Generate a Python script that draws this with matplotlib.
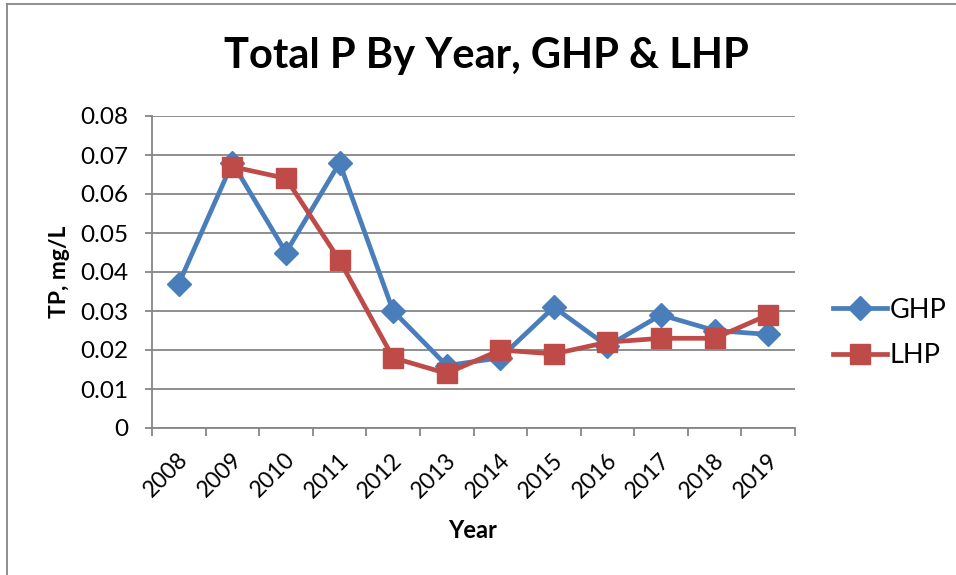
import numpy as np
import matplotlib.pyplot as plt
import matplotlib.transforms as mtransforms
from matplotlib.lines import Line2D

years = ["2008", "2009", "2010", "2011", "2012", "2013",
         "2014", "2015", "2016", "2017", "2018", "2019"]
ghp = [0.037, 0.068, 0.045, 0.068, 0.030, 0.016,
       0.018, 0.031, 0.021, 0.029, 0.025, 0.024]
# no LHP value for 2008
lhp = [np.nan, 0.067, 0.064, 0.043, 0.018, 0.014,
       0.020, 0.019, 0.022, 0.023, 0.023, 0.029]

plt.rcParams['font.family'] = ['Lato', 'DejaVu Sans']

W, H = 956, 575
fig = plt.figure(figsize=(W / 100, H / 100), dpi=100)
ax = fig.add_axes([152 / W, 1 - 428 / H, (795 - 152) / W, (428 - 116) / H])

x = np.arange(len(years))
ax.plot(x, ghp, color='#4A7EBB', lw=3.4, marker='D', ms=12, label='GHP', zorder=3)
ax.plot(x, lhp, color='#BE4B48', lw=3.4, marker='s', ms=14, label='LHP', zorder=4)

ax.set_ylim(0, 0.08)
ax.set_yticks(np.arange(0, 0.081, 0.01))
ax.set_yticklabels(["0"] + [f"{v:.2f}" for v in np.arange(0.01, 0.081, 0.01)])
ax.set_xlim(-0.5, len(years) - 0.5)
ax.set_xticks(np.arange(-0.5, len(years), 1.0))
ax.set_xticklabels([])
ax.set_xticks(x, minor=True)
ax.set_xticklabels(years, minor=True, rotation=45, ha='right', va='center',
                   rotation_mode='anchor', fontsize=16.5)
ax.tick_params(axis='x', which='minor', length=0, pad=22)
ax.tick_params(axis='x', which='major', length=6, width=1.3, color='#868686')
ax.tick_params(axis='y', length=5, width=1.3, color='#868686', labelsize=17.5, pad=12)

# nudge the year labels a bit right, like excel does
shift = mtransforms.ScaledTranslation(6 / 100, 2 / 100, fig.dpi_scale_trans)
for lbl in ax.xaxis.get_minorticklabels():
    lbl.set_transform(lbl.get_transform() + shift)

ax.grid(axis='y', color='#868686', lw=1.3)
ax.set_axisbelow(True)
for s in ['top', 'right']:
    ax.spines[s].set_visible(False)
for s in ['left', 'bottom']:
    ax.spines[s].set_color('#868686')
    ax.spines[s].set_linewidth(1.3)

fig.text(486 / W, 1 - 56 / H, "Total P By Year, GHP & LHP", ha='center', va='center',
         fontsize=30, fontweight='bold')
fig.text(60 / W, 1 - 272 / H, "TP, mg/L", ha='center', va='center', rotation=90,
         fontsize=16.5, fontweight='bold')
fig.text(473 / W, 1 - 530 / H, "Year", ha='center', va='center',
         fontsize=17, fontweight='bold')

ax.legend(loc='center left', bbox_to_anchor=(833 / W, 1 - 333 / H),
          bbox_transform=fig.transFigure, frameon=False, fontsize=19.5,
          handlelength=2.0, labelspacing=0.75, handletextpad=0.1,
          borderpad=0, borderaxespad=0)

# chart border (cropped)
fig.add_artist(Line2D([7 / W, 7 / W], [0, 1 - 4 / H], color='#868686', lw=1.3))
fig.add_artist(Line2D([7 / W, 1], [1 - 4 / H, 1 - 4 / H], color='#868686', lw=1.3))

fig.savefig('out.png', dpi=100)
